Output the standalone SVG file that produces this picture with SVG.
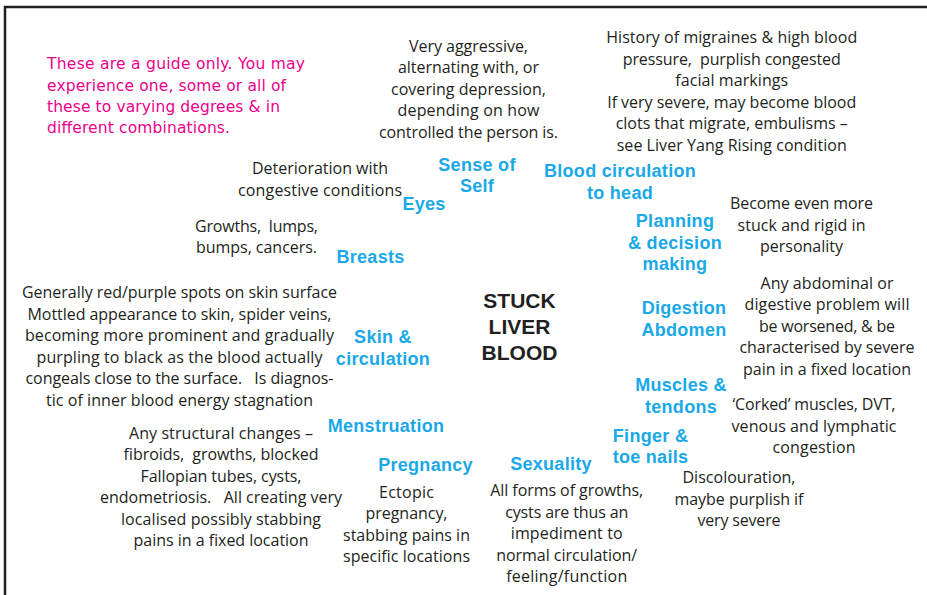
<svg xmlns="http://www.w3.org/2000/svg" width="927" height="595" viewBox="0 0 927 595">
<style>
.t{font-family:"Open Sans","Noto Sans",sans-serif;font-size:16px;fill:#231f20;text-anchor:middle;white-space:pre}
.h{font-family:"Liberation Sans",Arial,sans-serif;font-size:18px;font-weight:bold;fill:#19a8e8;text-anchor:middle;letter-spacing:0.3px}
.c{font-family:"Liberation Sans",Arial,sans-serif;font-size:21px;font-weight:bold;fill:#231f20;text-anchor:middle}
.p{font-family:"DejaVu Sans",Verdana,sans-serif;font-size:15.5px;fill:#ec008c}
</style>
<rect width="927" height="595" fill="#ffffff"/>
<path id="frame" d="M5,595 V7 H927" fill="none" stroke="#231f20" stroke-width="2.5"/>

<g id="note">
<text class="p" x="47" y="69" textLength="258">These are a guide only. You may</text>
<text class="p" x="47" y="90.5" textLength="239">experience one, some or all of</text>
<text class="p" x="47" y="112" textLength="233">these to varying degrees &amp; in</text>
<text class="p" x="47" y="133" textLength="183">different combinations.</text>
</g>

<g id="center">
<text class="c" x="519.5" y="308">STUCK</text>
<text class="c" x="519.5" y="334">LIVER</text>
<text class="c" x="519.5" y="360">BLOOD</text>
</g>

<g id="sense-of-self">
<text class="h" x="477" y="171">Sense of</text>
<text class="h" x="477" y="192">Self</text>
</g>
<g id="sense-of-self-desc">
<text class="t" x="468.5" y="51.5" textLength="119">Very aggressive,</text>
<text class="t" x="468.5" y="73" textLength="141">alternating with, or</text>
<text class="t" x="468.5" y="94.5" textLength="155">covering depression,</text>
<text class="t" x="468.5" y="116" textLength="142">depending on how</text>
<text class="t" x="468.5" y="137.5" textLength="179">controlled the person is.</text>
</g>

<g id="blood-circulation">
<text class="h" x="620" y="177">Blood circulation</text>
<text class="h" x="620" y="199">to head</text>
</g>
<g id="blood-circulation-desc">
<text class="t" x="731.7" y="43" textLength="251">History of migraines &amp; high blood</text>
<text class="t" x="731.7" y="64.5" textLength="218">pressure,  purplish congested</text>
<text class="t" x="731.7" y="86" textLength="113">facial markings</text>
<text class="t" x="731.7" y="107.5" textLength="249">If very severe, may become blood</text>
<text class="t" x="731.7" y="129" textLength="232">clots that migrate, embulisms –</text>
<text class="t" x="731.7" y="150.5" textLength="230">see Liver Yang Rising condition</text>
</g>

<g id="eyes">
<text class="h" x="424" y="210">Eyes</text>
</g>
<g id="eyes-desc">
<text class="t" x="320" y="174" textLength="136">Deterioration with</text>
<text class="t" x="320" y="196" textLength="164">congestive conditions</text>
</g>

<g id="breasts">
<text class="h" x="370.5" y="263">Breasts</text>
</g>
<g id="breasts-desc">
<text class="t" x="256.5" y="231.5" textLength="123">Growths,  lumps,</text>
<text class="t" x="256.5" y="253" textLength="121">bumps, cancers.</text>
</g>

<g id="planning">
<text class="h" x="675" y="227">Planning</text>
<text class="h" x="675" y="248.5">&amp; decision</text>
<text class="h" x="675" y="269.5">making</text>
</g>
<g id="planning-desc">
<text class="t" x="801.5" y="209" textLength="143">Become even more</text>
<text class="t" x="801.5" y="230.5" textLength="128">stuck and rigid in</text>
<text class="t" x="801.5" y="252" textLength="83">personality</text>
</g>

<g id="digestion">
<text class="h" x="684" y="314">Digestion</text>
<text class="h" x="684" y="335.5">Abdomen</text>
</g>
<g id="digestion-desc">
<text class="t" x="827" y="288.5" textLength="133">Any abdominal or</text>
<text class="t" x="827" y="310" textLength="165">digestive problem will</text>
<text class="t" x="827" y="331.5" textLength="136">be worsened, &amp; be</text>
<text class="t" x="827" y="353" textLength="175">characterised by severe</text>
<text class="t" x="827" y="374.5" textLength="168">pain in a fixed location</text>
</g>

<g id="skin">
<text class="h" x="383" y="343">Skin &amp;</text>
<text class="h" x="383" y="365">circulation</text>
</g>
<g id="skin-desc">
<text class="t" x="179.5" y="298" textLength="315">Generally red/purple spots on skin surface</text>
<text class="t" x="179.5" y="319.5" textLength="304">Mottled appearance to skin, spider veins,</text>
<text class="t" x="179.5" y="341" textLength="309">becoming more prominent and gradually</text>
<text class="t" x="179.5" y="362.5" textLength="286">purpling to black as the blood actually</text>
<text class="t" x="179.5" y="384" textLength="308">congeals close to the surface.   Is diagnos-</text>
<text class="t" x="179.5" y="405.5" textLength="267">tic of inner blood energy stagnation</text>
</g>

<g id="muscles">
<text class="h" x="681" y="391">Muscles &amp;</text>
<text class="h" x="681" y="412.5">tendons</text>
</g>
<g id="muscles-desc">
<text class="t" x="814" y="410" textLength="163">‘Corked’ muscles, DVT,</text>
<text class="t" x="814" y="431.5" textLength="165">venous and lymphatic</text>
<text class="t" x="814" y="453" textLength="83">congestion</text>
</g>

<g id="nails">
<text class="h" x="650.5" y="441.5">Finger &amp;</text>
<text class="h" x="650.5" y="462.5">toe nails</text>
</g>
<g id="nails-desc">
<text class="t" x="739" y="483" textLength="113">Discolouration,</text>
<text class="t" x="739" y="504.5" textLength="129">maybe purplish if</text>
<text class="t" x="739" y="526" textLength="83">very severe</text>
</g>

<g id="sexuality">
<text class="h" x="551" y="470">Sexuality</text>
</g>
<g id="sexuality-desc">
<text class="t" x="566.7" y="496" textLength="153">All forms of growths,</text>
<text class="t" x="566.7" y="517.5" textLength="123">cysts are thus an</text>
<text class="t" x="566.7" y="539" textLength="112">impediment to</text>
<text class="t" x="566.7" y="560.5" textLength="141">normal circulation/</text>
<text class="t" x="566.7" y="582" textLength="121">feeling/function</text>
</g>

<g id="pregnancy">
<text class="h" x="425.5" y="470.5">Pregnancy</text>
</g>
<g id="pregnancy-desc">
<text class="t" x="406.5" y="497.5" textLength="55">Ectopic</text>
<text class="t" x="406.5" y="519" textLength="82">pregnancy,</text>
<text class="t" x="406.5" y="540.5" textLength="127">stabbing pains in</text>
<text class="t" x="406.5" y="562" textLength="127">specific locations</text>
</g>

<g id="menstruation">
<text class="h" x="386" y="431.5">Menstruation</text>
</g>
<g id="menstruation-desc">
<text class="t" x="221" y="438.5" textLength="184">Any structural changes –</text>
<text class="t" x="221" y="460" textLength="195">fibroids,  growths, blocked</text>
<text class="t" x="221" y="481.5" textLength="161">Fallopian tubes, cysts,</text>
<text class="t" x="221" y="503" textLength="242">endometriosis.   All creating very</text>
<text class="t" x="221" y="524.5" textLength="200">localised possibly stabbing</text>
<text class="t" x="221" y="546" textLength="175">pains in a fixed location</text>
</g>

<g id="connectors"></g>
</svg>
